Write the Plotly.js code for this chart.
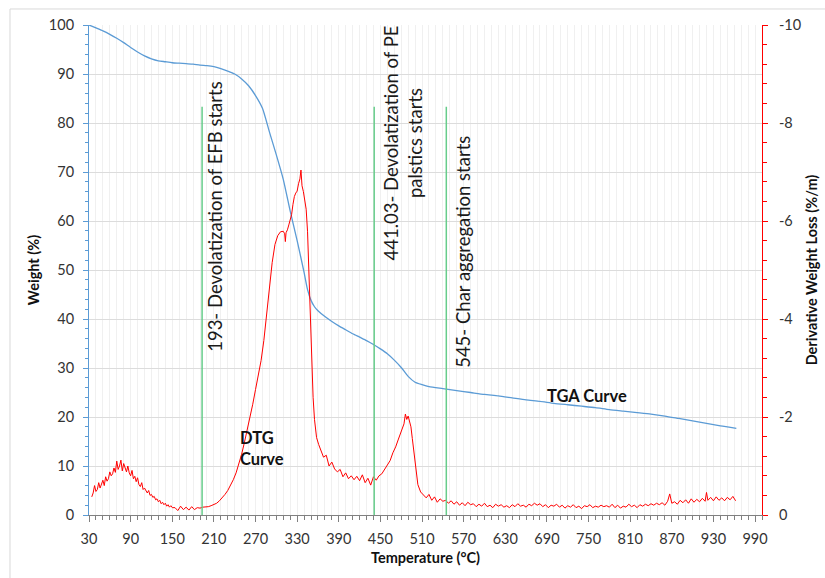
<!DOCTYPE html>
<html>
<head>
<meta charset="utf-8">
<script src="https://cdn.plot.ly/plotly-3.0.1.min.js"></script>
<style>
  html, body { margin: 0; padding: 0; background: #ffffff; }
  #chart { width: 825px; height: 578px; }
</style>
</head>
<body>
<div id="chart"></div>
<script>
// ---------------- DATA ----------------
// TGA curve: temperature (°C) and weight (%)
var tgaT = [30, 40, 50, 60, 70, 80, 90, 100, 110, 120, 130, 140, 150, 160, 170, 180, 190, 200, 210, 220, 230, 240, 250, 260, 270, 280, 290, 300, 310, 320, 330, 340, 345, 350, 355, 360, 370, 380, 390, 400, 410, 420, 430, 440, 450, 460, 470, 480, 490, 500, 510, 520, 540, 560, 580, 600, 620, 640, 660, 680, 700, 720, 740, 760, 780, 800, 820, 840, 860, 880, 900, 920, 940, 963];
var tgaW = [100, 99.4, 98.8, 98.1, 97.3, 96.4, 95.4, 94.5, 93.7, 93.1, 92.7, 92.5, 92.3, 92.2, 92.1, 92.0, 91.8, 91.7, 91.5, 91.1, 90.6, 90.0, 89.0, 87.6, 85.6, 83.0, 78.2, 73.5, 68.5, 62.0, 56.0, 49.5, 46.0, 43.8, 42.5, 41.7, 40.5, 39.5, 38.6, 37.8, 37.0, 36.3, 35.6, 34.8, 33.9, 32.9, 31.6, 30.1, 28.3, 27.1, 26.6, 26.2, 25.8, 25.4, 25.0, 24.6, 24.3, 23.9, 23.5, 23.2, 22.8, 22.5, 22.2, 21.9, 21.5, 21.2, 20.9, 20.6, 20.2, 19.7, 19.2, 18.7, 18.2, 17.7];

// DTG curve: temperature (°C) and derivative weight loss (%/m)
var dtgT = [34, 36, 38, 40, 42, 44, 46, 48, 50, 52, 54, 56, 58, 60, 62, 64, 66, 68, 70, 72, 74, 76, 78, 80, 82, 84, 86, 88, 90, 92, 94, 96, 98, 100, 102, 104, 106, 108, 110, 112, 114, 116, 118, 120, 122, 124, 126, 128, 130, 132, 134, 136, 138, 140, 142, 144, 146, 148, 150, 154, 158, 162, 166, 170, 174, 178, 182, 186, 190, 194, 198, 202, 206, 210, 214, 218, 222, 226, 230, 234, 238, 242, 246, 250, 254, 258, 262, 266, 270, 274, 278, 282, 286, 290, 294, 298, 302, 306, 310, 312, 313, 314, 316, 318, 320, 322, 324, 326, 328, 330, 332, 334, 335.5, 337, 339, 341, 343, 345, 347, 349, 351, 353, 355, 358, 361, 364, 368, 372, 376, 380, 384, 388, 392, 396, 400, 404, 408, 412, 416, 420, 424, 428, 432, 436, 440, 444, 448, 452, 456, 460, 464, 468, 472, 476, 480, 484, 486, 488, 490, 492, 494, 496, 498, 500, 502, 504, 508, 512, 516, 520, 524, 528, 532, 536, 540, 544, 548, 552, 556, 560, 564, 568, 572, 576, 580, 584, 588, 592, 596, 600, 604, 608, 612, 616, 620, 624, 628, 632, 636, 640, 644, 648, 652, 656, 660, 664, 668, 672, 676, 680, 684, 688, 692, 696, 700, 704, 708, 712, 716, 720, 724, 728, 732, 736, 740, 744, 748, 752, 756, 760, 764, 768, 772, 776, 780, 784, 788, 792, 796, 800, 804, 808, 812, 816, 820, 824, 828, 832, 836, 840, 844, 848, 852, 856, 860, 864, 867, 870, 874, 878, 882, 886, 890, 894, 898, 902, 906, 910, 914, 918, 920, 922, 926, 930, 934, 938, 942, 946, 950, 954, 958, 962];
var dtgV = [-0.37, -0.45, -0.60, -0.48, -0.52, -0.66, -0.55, -0.62, -0.71, -0.60, -0.78, -0.69, -0.74, -0.88, -0.80, -0.84, -0.96, -0.87, -1.10, -0.93, -1.00, -1.12, -0.90, -1.05, -0.97, -0.88, -1.00, -0.86, -0.80, -0.91, -0.74, -0.79, -0.68, -0.76, -0.62, -0.58, -0.66, -0.52, -0.55, -0.49, -0.45, -0.50, -0.40, -0.42, -0.36, -0.38, -0.31, -0.33, -0.27, -0.30, -0.23, -0.26, -0.21, -0.24, -0.18, -0.21, -0.16, -0.19, -0.15, -0.15, -0.09, -0.18, -0.11, -0.16, -0.10, -0.17, -0.11, -0.15, -0.14, -0.16, -0.16, -0.17, -0.19, -0.21, -0.24, -0.29, -0.35, -0.42, -0.50, -0.60, -0.72, -0.86, -1.03, -1.24, -1.48, -1.73, -1.98, -2.26, -2.56, -2.86, -3.15, -3.56, -4.10, -4.66, -5.15, -5.52, -5.70, -5.78, -5.79, -5.74, -5.58, -5.76, -5.82, -5.92, -6.02, -6.13, -6.34, -6.50, -6.57, -6.61, -6.76, -6.86, -7.04, -6.72, -6.60, -6.36, -6.24, -5.78, -4.90, -3.95, -3.15, -2.40, -1.95, -1.58, -1.44, -1.33, -1.18, -1.22, -1.00, -1.08, -0.94, -0.88, -0.93, -0.78, -0.86, -0.74, -0.80, -0.72, -0.79, -0.70, -0.82, -0.66, -0.75, -0.61, -0.78, -0.71, -0.80, -0.84, -0.93, -1.01, -1.11, -1.27, -1.39, -1.55, -1.72, -1.86, -2.06, -1.95, -2.02, -1.90, -1.80, -1.56, -1.30, -1.00, -0.78, -0.62, -0.47, -0.40, -0.35, -0.42, -0.30, -0.37, -0.26, -0.33, -0.28, -0.30, -0.24, -0.29, -0.22, -0.27, -0.20, -0.25, -0.19, -0.26, -0.21, -0.23, -0.17, -0.22, -0.18, -0.24, -0.17, -0.20, -0.15, -0.22, -0.18, -0.21, -0.16, -0.19, -0.15, -0.21, -0.17, -0.23, -0.18, -0.20, -0.16, -0.22, -0.19, -0.24, -0.20, -0.23, -0.17, -0.21, -0.15, -0.20, -0.18, -0.22, -0.16, -0.20, -0.14, -0.19, -0.16, -0.21, -0.15, -0.18, -0.13, -0.19, -0.17, -0.21, -0.15, -0.18, -0.16, -0.20, -0.17, -0.19, -0.16, -0.22, -0.15, -0.20, -0.14, -0.18, -0.16, -0.22, -0.17, -0.20, -0.15, -0.21, -0.18, -0.22, -0.19, -0.23, -0.20, -0.24, -0.21, -0.25, -0.20, -0.28, -0.43, -0.24, -0.27, -0.22, -0.30, -0.25, -0.31, -0.24, -0.33, -0.26, -0.32, -0.27, -0.34, -0.28, -0.46, -0.30, -0.36, -0.29, -0.37, -0.30, -0.35, -0.29, -0.36, -0.31, -0.38, -0.29];

// Event markers (°C) and their labels
var eventT = [193, 441.03, 545];
var eventLabels = ["193- Devolatization of EFB starts", "441.03- Devolatization of PE<br>palstics starts", "545- Char aggregation starts"];

// Tick labels
var dtgTickVals = [0, -2, -4, -6, -8, -10];
var dtgTickText = ["0", "-2", "-4", "-6", "-8", "-10"];

// ---------------- CHART ----------------
var FONT = "Lato, 'Open Sans', sans-serif";
var TXT = "#333333";

var traces = [
  {
    x: tgaT, y: tgaW, type: "scatter", mode: "lines", name: "TGA",
    line: { color: "#5b9bd5", width: 1.3, shape: "spline", smoothing: 0.6 },
    xaxis: "x", yaxis: "y", hoverinfo: "skip"
  },
  {
    x: dtgT, y: dtgV, type: "scatter", mode: "lines", name: "DTG",
    line: { color: "#ff0000", width: 1 },
    xaxis: "x", yaxis: "y2", hoverinfo: "skip"
  }
];

var shapes = [
  // chart area border
  { type: "rect", xref: "paper", yref: "paper", x0: -0.1174, x1: 1.2, y0: -0.3, y1: 1.0327,
    line: { color: "#d9d9d9", width: 1 }, fillcolor: "rgba(0,0,0,0)", layer: "below" }
];
eventT.forEach(function (t) {
  shapes.push({ type: "line", xref: "x", yref: "y", x0: t, x1: t, y0: 0, y1: 83.3,
    line: { color: "#66cc8a", width: 1.5 } });
});

var annFont = { family: FONT, size: 18.5, color: "#1a1a1a" };
var annotations = [
  { x: 210.5, y: 60.9, xref: "x", yref: "y", text: eventLabels[0], showarrow: false, textangle: -90,
    font: annFont, xanchor: "center", yanchor: "middle" },
  { x: 482.5, y: 76.0, xref: "x", yref: "y", text: eventLabels[1], showarrow: false, textangle: -90,
    font: annFont, xanchor: "center", yanchor: "middle", align: "center" },
  { x: 569, y: 53.7, xref: "x", yref: "y", text: eventLabels[2], showarrow: false, textangle: -90,
    font: annFont, xanchor: "center", yanchor: "middle" },
  { x: 747.8, y: 24.3, xref: "x", yref: "y", text: "<b>TGA Curve</b>", showarrow: false,
    font: { family: FONT, size: 16.5, color: "#111111" }, xanchor: "center", yanchor: "middle" },
  { x: 244.5, y: 13.5, xref: "x", yref: "y", text: "<b>DTG<br>Curve</b>", showarrow: false, align: "left",
    font: { family: FONT, size: 16.5, color: "#111111" }, xanchor: "left", yanchor: "middle" }
];

var layout = {
  width: 825, height: 578,
  margin: { l: 89, r: 63, t: 25, b: 63, pad: 0 },
  paper_bgcolor: "#ffffff", plot_bgcolor: "#ffffff",
  showlegend: false,
  font: { family: FONT, size: 14.5, color: TXT },
  xaxis: {
    range: [30, 1000], tick0: 30, dtick: 60, tickmode: "linear",
    showline: true, linecolor: "#808080", linewidth: 1,
    ticks: "outside", ticklen: 6, tickcolor: "#808080", tickwidth: 1,
    ticklabelstandoff: 5,
    showgrid: true, gridcolor: "#f0f0f0", gridwidth: 1,
    zeroline: false,
    minor: { dtick: 10, ticks: "outside", ticklen: 4, tickcolor: "#808080", showgrid: true, gridcolor: "#f0f0f0", gridwidth: 1 },
    tickfont: { family: FONT, size: 14.5, color: TXT },
    title: { text: "<b>Temperature (°C)</b>", font: { family: FONT, size: 14.5, color: "#111111" }, standoff: 6 }
  },
  yaxis: {
    range: [0, 100], tick0: 0, dtick: 10, tickmode: "linear",
    showline: true, linecolor: "#5b9bd5", linewidth: 1,
    ticks: "outside", ticklen: 5, tickcolor: "#5b9bd5", tickwidth: 1,
    ticklabelstandoff: 6,
    showgrid: true, gridcolor: "#dcdcdc", gridwidth: 1,
    zeroline: false,
    minor: { dtick: 2, ticks: "outside", ticklen: 3, tickcolor: "#5b9bd5", showgrid: false },
    tickfont: { family: FONT, size: 14.5, color: TXT },
    title: { text: "<b>Weight (%)</b>", font: { family: FONT, size: 14.5, color: "#111111" }, standoff: 5 }
  },
  yaxis2: {
    overlaying: "y", side: "right",
    range: [0, -10], tickmode: "array", tickvals: dtgTickVals, ticktext: dtgTickText,
    showline: true, linecolor: "#ff0000", linewidth: 1,
    ticks: "outside", ticklen: 5, tickcolor: "#ff0000", tickwidth: 1,
    ticklabelstandoff: 8,
    showgrid: false, zeroline: false,
    minor: { dtick: 0.4, tick0: 0, ticks: "outside", ticklen: 4, tickcolor: "#ff0000", showgrid: false },
    tickfont: { family: FONT, size: 14.5, color: TXT },
    title: { text: "<b>Derivative Weight Loss (%/m)</b>", font: { family: FONT, size: 14.5, color: "#111111" }, standoff: 6 }
  },
  shapes: shapes,
  annotations: annotations
};

Plotly.newPlot("chart", traces, layout, { staticPlot: true, displayModeBar: false });
</script>
</body>
</html>
